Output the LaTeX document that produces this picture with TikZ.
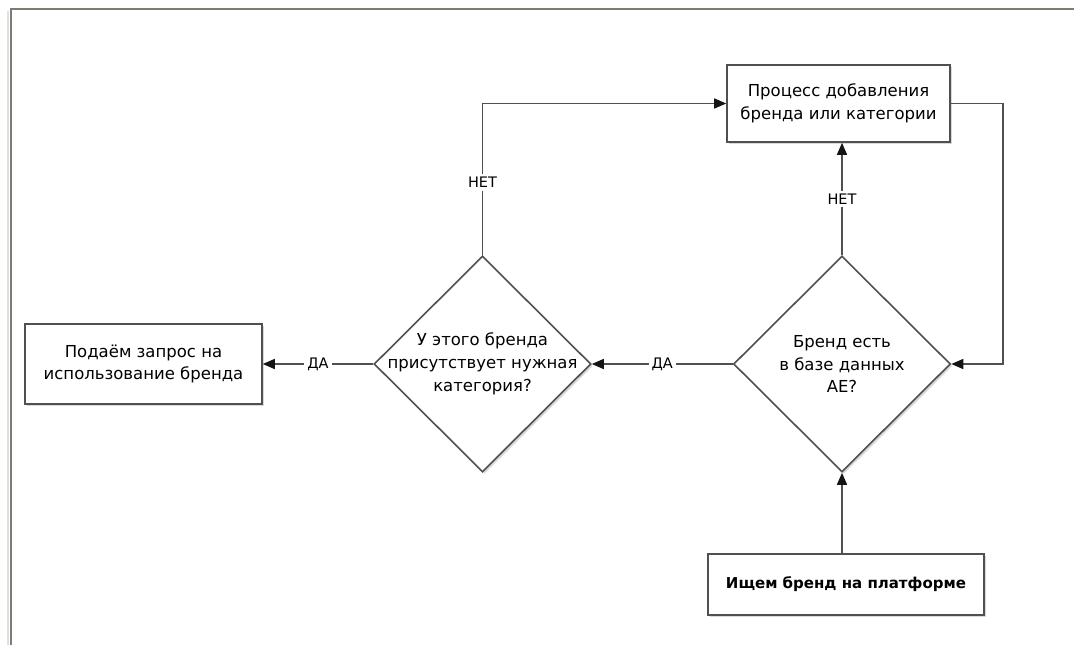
\documentclass[tikz,border=0pt]{standalone}
\usepackage{fontspec}
\setmainfont{DejaVu Sans}
\usetikzlibrary{shapes.geometric,arrows.meta,shadows}
\definecolor{ln}{RGB}{80,80,80}
\definecolor{tipc}{RGB}{20,20,20}
\definecolor{framec}{RGB}{128,124,115}
\begin{document}
\begin{tikzpicture}[x=1pt,y=-1pt,
  shp/.style={draw=ln, line width=1.6pt, fill=white, drop shadow={opacity=0.3, shadow xshift=2pt, shadow yshift=-2pt}},
  box/.style={shp, align=center, inner sep=0pt, font=\fontsize{16.5}{22.7}\selectfont},
  dia/.style={shp, diamond, aspect=1, inner sep=0pt, minimum width=217pt, minimum height=216pt},
  txt/.style={align=center, font=\fontsize{16.5}{22.7}\selectfont},
  conn/.style={draw=ln, line width=1.5pt, -{Triangle[length=12pt,width=10pt,color=tipc]}},
  lbl/.style={fill=white, inner sep=3pt, font=\fontsize{14.5}{16}\selectfont, text=black}
]
\useasboundingbox (0,0) rectangle (1074,645);
% frame
\draw[black!12, line width=2pt] (8,645) -- (8,11);
\draw[framec, line width=2pt] (11,645) -- (11,9) -- (1074,9);

% nodes
\node[box, minimum width=223pt, minimum height=77pt] (proc) at (838.5,103.5) {Процесс добавления\\бренда или категории};
\node[dia] (d2) at (842,364) {};
\node[txt] (t2) at (d2) {Бренд есть\\в базе данных\\AE?};
\node[dia] (d1) at (482.5,364) {};
\node[txt] (t1) at (d1) {У этого бренда\\присутствует нужная\\категория?};
\node[box, minimum width=237pt, minimum height=80pt] (req) at (143.5,364) {Подаём запрос на\\использование бренда};
\node[box, minimum width=276pt, minimum height=61pt, font=\fontsize{15}{18}\selectfont\bfseries] (find) at (846,584.5) {Ищем бренд на платформе};

% connectors
\draw[conn] (d2.south |- find.north) -- (d2.south);
\draw[conn] (d2.north) -- node[lbl]{НЕТ} (d2.north |- proc.south);
\draw[conn] (proc.east) -- ++(52,0) |- (d2.east);
\draw[conn] (d2.west) -- node[lbl]{ДА} (d1.east);
\draw[conn] (d1.west) -- node[lbl]{ДА} (req.east);
\draw[conn] (d1.north) |- node[lbl, pos=0.24]{НЕТ} (proc.west);
\end{tikzpicture}
\end{document}
